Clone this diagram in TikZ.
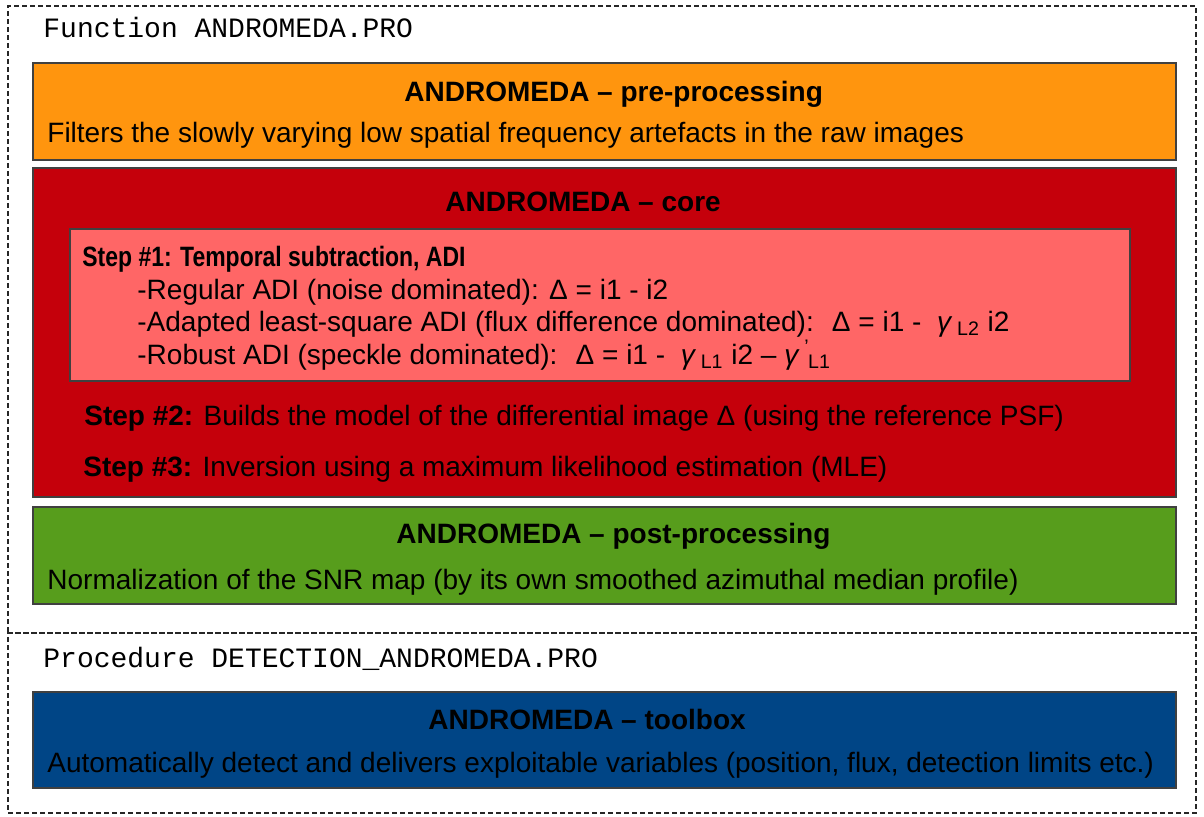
\documentclass[tikz,border=0pt]{standalone}
\usepackage{fontspec}
\usepackage{graphicx}
\setmainfont{Liberation Sans}
\setmonofont{Liberation Mono}
\usetikzlibrary{fit}

\definecolor{andorange}{HTML}{FF950E}
\definecolor{andred}{HTML}{C5000B}
\definecolor{andpink}{HTML}{FF6666}
\definecolor{andgreen}{HTML}{579D1C}
\definecolor{andblue}{HTML}{004586}

\newcommand{\gam}{\textit{γ}}

\begin{document}
\begin{tikzpicture}[x=0.5pt,y=-0.5pt,font=\fontsize{14}{16}\selectfont,
  panel/.style={draw=black!75,line width=0.7pt,inner sep=0pt},
  frame/.style={draw=black!85,line width=1pt,dash pattern=on 2.5pt off 1.5pt,inner sep=0pt},
  txt/.style={anchor=base west,inner sep=0pt},
  heading/.style={txt,font=\fontsize{14}{16}\selectfont\bfseries},
  codelabel/.style={txt,font=\fontsize{14}{16}\selectfont\ttfamily}]
  \useasboundingbox (0,0) rectangle (1204,816);

  % dashed frames of the two IDL files
  \node[frame,fit={(8,6) (1196,633)}] (funcframe) {};
  \node[frame,fit={(8,633) (1196,813)}] (procframe) {};
  \node[codelabel] (funclabel) at (43,37) {Function ANDROMEDA.PRO};
  \node[codelabel] (proclabel) at (43,667) {Procedure DETECTION\_ANDROMEDA.PRO};

  % pre-processing
  \node[panel,fill=andorange,fit={(33,63) (1176,160)}] (pre) {};
  \node[heading] (pretitle) at (404,101) {ANDROMEDA – pre-processing};
  \node[txt] (pretext) at (47,142) {Filters the slowly varying low spatial frequency artefacts in the raw images};

  % core
  \node[panel,fill=andred,fit={(33,168) (1176,497)}] (core) {};
  \node[heading] (coretitle) at (445,211) {ANDROMEDA – core};
  \node[panel,fill=andpink,fit={(70,229) (1130,381)}] (stepone) {};
  \node[heading] (steponetitle) at (82,266) {\scalebox{0.82}[1]{Step \#1: Temporal subtraction, ADI}};
  \node[txt] (regular) at (137,299) {-Regular ADI (noise dominated): Δ = i1 - i2};
  \node[txt] (adapted) at (137,331) {-Adapted least-square ADI (flux difference dominated):~ Δ = i1 -~ \gam\,\textsubscript{L2} i2};
  \node[txt] (robust) at (137,364) {-Robust ADI (speckle dominated):~ Δ = i1 -~ \gam\,\textsubscript{L1} i2 – \gam\,\textsuperscript{'}\kern-0.05em\textsubscript{L1}};
  \node[txt] (steptwo) at (84,425) {\textbf{Step \#2:} Builds the model of the differential image Δ (using the reference PSF)};
  \node[txt] (stepthree) at (83,476) {\textbf{Step \#3:} Inversion using a maximum likelihood estimation (MLE)};

  % post-processing
  \node[panel,fill=andgreen,fit={(33,507) (1176,604)}] (post) {};
  \node[heading] (posttitle) at (396,543) {ANDROMEDA – post-processing};
  \node[txt] (posttext) at (47,589) {Normalization of the SNR map (by its own smoothed azimuthal median profile)};

  % toolbox
  \node[panel,fill=andblue,fit={(33,692) (1176,788)}] (tools) {};
  \node[heading] (toolstitle) at (428,729) {ANDROMEDA – toolbox};
  \node[txt] (toolstext) at (47,772) {Automatically detect and delivers exploitable variables (position, flux, detection limits etc.)};
\end{tikzpicture}
\end{document}
